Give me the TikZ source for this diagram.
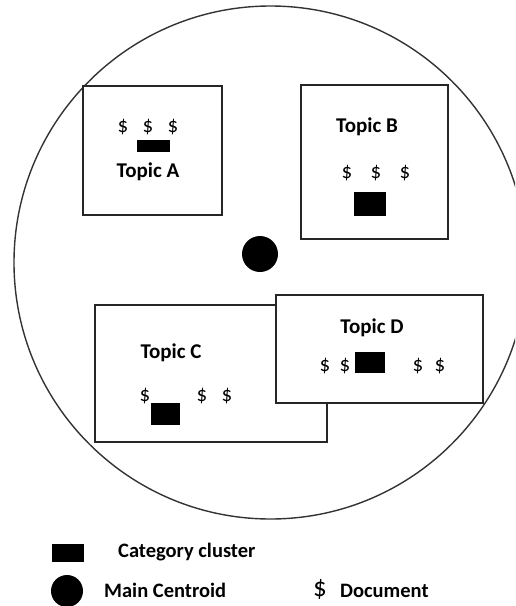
\documentclass[tikz,border=0pt]{standalone}
\usepackage{fontspec}
\setmainfont{Carlito}
\begin{document}
\begin{tikzpicture}[x=1pt,y=-1pt,
  topicbox/.style={draw=black!85,line width=1.3pt,fill=white,inner sep=0pt,rectangle},
  cluster/.style={fill=black,inner sep=0pt,rectangle},
  centroid/.style={fill=black,circle,inner sep=0pt},
  lbl/.style={font=\fontsize{21}{24}\selectfont\bfseries,inner sep=0pt},
  doc/.style={font=\fontsize{21}{24}\selectfont,inner sep=0pt},
  legtext/.style={font=\fontsize{20.5}{24}\selectfont\bfseries,inner sep=0pt,anchor=west}]
\useasboundingbox (0,0) rectangle (515,606);
\begin{scope}
\clip (0,0) rectangle (515,606);
\node[draw=black!80,line width=1.4pt,circle,minimum size=513pt,inner sep=0pt] (outer) at (270.5,262.5) {};
\end{scope}
% Topic A
\node[topicbox,minimum width=139pt,minimum height=129pt] (boxA) at (152.5,150.5) {};
\node[doc] (a1) at (123,127) {\$};
\node[doc] (a2) at (148,127) {\$};
\node[doc] (a3) at (173,127) {\$};
\node[cluster,minimum width=33pt,minimum height=12pt] (ca) at (153.5,146) {};
\node[lbl] (ta) at (148,172) {Topic A};
% Topic B
\node[topicbox,minimum width=147pt,minimum height=154pt] (boxB) at (374.5,162) {};
\node[lbl] (tb) at (367,127) {Topic B};
\node[doc] (b1) at (347,173) {\$};
\node[doc] (b2) at (376,173) {\$};
\node[doc] (b3) at (405,173) {\$};
\node[cluster,minimum width=32pt,minimum height=24pt] (cb) at (370,204) {};
% Centroid
\node[centroid,minimum size=36pt] (main) at (260,254) {};
% Topic C
\node[topicbox,minimum width=232pt,minimum height=137pt] (boxC) at (211,373.5) {};
\node[lbl] (tc) at (171,353) {Topic C};
\node[doc] (c1) at (145,396) {\$};
\node[doc] (c2) at (202,396) {\$};
\node[doc] (c3) at (227,396) {\$};
\node[cluster,minimum width=29pt,minimum height=22pt] (cc) at (165.5,414) {};
% Topic D
\node[topicbox,minimum width=207pt,minimum height=108pt] (boxD) at (379.5,349) {};
\node[lbl] (td) at (372,328) {Topic D};
\node[doc] (d1) at (325,366) {\$};
\node[doc] (d2) at (345,366) {\$};
\node[doc] (d3) at (418,366) {\$};
\node[doc] (d4) at (440,366) {\$};
\node[cluster,minimum width=30pt,minimum height=21pt] (cd) at (370,362.5) {};
% Legend
\node[cluster,minimum width=32pt,minimum height=18pt] (lc) at (68,553) {};
\node[legtext] (lct) at (118,552) {Category cluster};
\node[centroid,minimum size=32pt] (lm) at (67,591) {};
\node[legtext] (lmt) at (104,590) {Main Centroid};
\node[font=\fontsize{27}{30}\selectfont,inner sep=0pt] (ld) at (320,589) {\$};
\node[legtext] (ldt) at (340,591) {Document};
\end{tikzpicture}
\end{document}
